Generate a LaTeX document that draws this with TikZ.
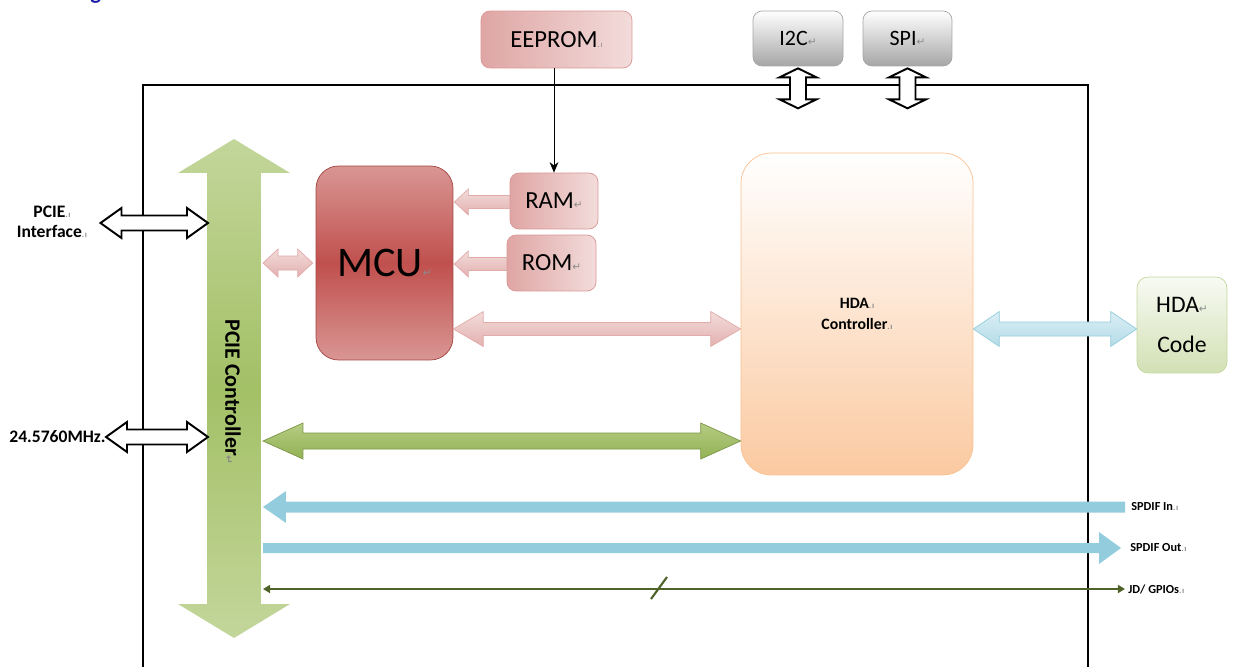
\documentclass[tikz,border=0pt]{standalone}
\usepackage{fontspec}
\setmainfont{Carlito}
\newfontfamily\symfont{DejaVu Sans}
\usetikzlibrary{calc,arrows.meta}

\definecolor{olivegreen}{HTML}{9BBB59}
\definecolor{lightgreen}{HTML}{C3D69B}
\definecolor{darkolive}{HTML}{4F6228}
\definecolor{redbox}{HTML}{C0504D}
\definecolor{rosebox}{HTML}{D99694}
\definecolor{palerose}{HTML}{F2DCDB}
\definecolor{peach}{HTML}{FAC090}
\definecolor{skyblue}{HTML}{93CDDD}
\definecolor{paleblue}{HTML}{DBEEF4}
\definecolor{markgray}{HTML}{8C8C8C}
\definecolor{titleblue}{HTML}{1C1CA8}

% one pixel of the drawing
\newcommand{\px}{0.56905pt}
% word marks
\newcommand{\pmark}{{\color{markgray}\symfont\fontsize{6}{6}\selectfont ↵}}
\newcommand{\dmark}{{\color{markgray}\fontsize{5}{5}\selectfont.\kern.4pt ı}}

% block arrows: [style]{end}{end}{head length}{head half width}{shaft half width}
\newcommand{\blkboth}[6][]{%
  \path[#1] let \p1=(#2), \p2=(#3) in
    (\x1,\y1) -- (\x1+#4*\px,\y1+#5*\px) -- (\x1+#4*\px,\y1+#6*\px)
    -- (\x2-#4*\px,\y1+#6*\px) -- (\x2-#4*\px,\y1+#5*\px) -- (\x2,\y1)
    -- (\x2-#4*\px,\y1-#5*\px) -- (\x2-#4*\px,\y1-#6*\px)
    -- (\x1+#4*\px,\y1-#6*\px) -- (\x1+#4*\px,\y1-#5*\px) -- cycle;}
\newcommand{\blkupdown}[6][]{%
  \path[#1] let \p1=(#2), \p2=(#3) in
    (\x1,\y1) -- (\x1+#5*\px,\y1-#4*\px) -- (\x1+#6*\px,\y1-#4*\px)
    -- (\x1+#6*\px,\y2+#4*\px) -- (\x1+#5*\px,\y2+#4*\px) -- (\x1,\y2)
    -- (\x1-#5*\px,\y2+#4*\px) -- (\x1-#6*\px,\y2+#4*\px)
    -- (\x1-#6*\px,\y1-#4*\px) -- (\x1-#5*\px,\y1-#4*\px) -- cycle;}
% tip first, tail second
\newcommand{\blkleft}[6][]{%
  \path[#1] let \p1=(#2), \p2=(#3) in
    (\x1,\y1) -- (\x1+#4*\px,\y1+#5*\px) -- (\x1+#4*\px,\y1+#6*\px)
    -- (\x2,\y1+#6*\px) -- (\x2,\y1-#6*\px) -- (\x1+#4*\px,\y1-#6*\px)
    -- (\x1+#4*\px,\y1-#5*\px) -- cycle;}
% tail first, tip second
\newcommand{\blkright}[6][]{%
  \path[#1] let \p1=(#2), \p2=(#3) in
    (\x2,\y1) -- (\x2-#4*\px,\y1+#5*\px) -- (\x2-#4*\px,\y1+#6*\px)
    -- (\x1,\y1+#6*\px) -- (\x1,\y1-#6*\px) -- (\x2-#4*\px,\y1-#6*\px)
    -- (\x2-#4*\px,\y1-#5*\px) -- cycle;}

\tikzset{
  chip/.style={line width=1.5pt},
  membox/.style={draw=rosebox, left color=rosebox!85, right color=palerose,
    rounded corners=0.18cm, inner sep=0pt, font=\fontsize{14}{14}\selectfont},
  mcubox/.style={draw=redbox!85!black, top color=rosebox, bottom color=rosebox,
    middle color=redbox, rounded corners=0.45cm, inner sep=0pt,
    font=\fontsize{24}{24}\selectfont},
  portbox/.style={draw=gray!70, top color=white, bottom color=gray!70,
    rounded corners=0.18cm, inner sep=0pt, font=\fontsize{12.5}{12.5}\selectfont},
  hdabox/.style={draw=peach, top color=white, bottom color=peach!85,
    rounded corners=0.6cm, inner sep=0pt, align=center,
    font=\fontsize{9}{12}\selectfont\bfseries},
  codebox/.style={draw=lightgreen, top color=lightgreen!12, bottom color=lightgreen!75,
    rounded corners=0.22cm, inner sep=0pt, align=center,
    font=\fontsize{13.5}{23}\selectfont},
  hollow/.style={draw=black, fill=white, line width=1.1pt},
  pinkarrow/.style={draw=rosebox!80, top color=palerose, bottom color=rosebox!75},
  greenbus/.style={top color=lightgreen, bottom color=lightgreen,
    middle color=olivegreen!80!lightgreen},
  greenarrow/.style={draw=olivegreen!80!black, top color=olivegreen!75!white,
    bottom color=olivegreen!95!black},
  hdalink/.style={draw=skyblue, top color=paleblue, bottom color=skyblue!70},
  spdif/.style={fill=skyblue},
  jdline/.style={draw=darkolive, line width=1.2pt,
    {Triangle[length=4pt,width=4.5pt]}-{Triangle[length=4pt,width=4.5pt]}},
  sidelabel/.style={font=\fontsize{10}{11.5}\selectfont\bfseries, inner sep=0pt, align=center},
  portlabel/.style={font=\fontsize{7}{7}\selectfont\bfseries, inner sep=0pt, anchor=west},
}

\begin{document}
\begin{tikzpicture}[x=0.02cm, y=-0.02cm]
\useasboundingbox (0,0) rectangle (1233,666);

% heading, cut by the page edge
\node[anchor=base west, inner sep=0pt, text=titleblue,
  font=\fontsize{13}{13}\selectfont\bfseries] (title) at (90,-1) {g};

% chip outline
\draw[chip] (143,700) -- (143,85) -- (1088,85) -- (1088,700);

% blocks
\node[membox, minimum width=3.02cm, minimum height=1.14cm] (eeprom) at (556.5,39.5) {EEPROM\dmark};
\node[portbox, minimum width=1.8cm, minimum height=1.1cm] (i2c) at (798,38.5) {I2C\pmark};
\node[portbox, minimum width=1.78cm, minimum height=1.1cm] (spi) at (907.5,38.5) {SPI\pmark};
\node[mcubox, minimum width=2.74cm, minimum height=3.88cm] (mcu) at (384.5,263) {MCU\pmark};
\node[membox, minimum width=1.76cm, minimum height=1.12cm] (ram) at (554,201) {RAM\pmark};
\node[membox, minimum width=1.78cm, minimum height=1.12cm] (rom) at (551.5,263) {ROM\pmark};
\node[hdabox, minimum width=4.64cm, minimum height=6.44cm] (hda) at (857,314) {HDA\dmark\\Controller\dmark};
\node[codebox, minimum width=1.8cm, minimum height=1.92cm] (code) at (1182,325) {HDA\pmark\\Code};

% pcie bus
\coordinate (bustop) at (234,139);
\coordinate (busbot) at (234,638);
\coordinate (busW) at (208,0);
\coordinate (busE) at (263,0);
\blkupdown[greenbus]{bustop}{busbot}{34}{56}{27}
\node[rotate=-90, inner sep=0pt, font=\fontsize{12.5}{12.5}\selectfont\bfseries] (pcie) at (233,392) {PCIE Controller\pmark};

% outside labels
\node[sidelabel] (pcieif) at (52,222) {PCIE\dmark\\Interface\dmark};
\node[sidelabel, anchor=east] (clk) at (106,437) {24.5760MHz.};
\node[portlabel] (spin) at (1131,507) {SPDIF In\dmark};
\node[portlabel] (spout) at (1130,548) {SPDIF Out\dmark};
\node[portlabel] (jd) at (1128,589) {JD/ GPIOs\dmark};

% links
\blkboth[hollow]{$(pcieif.east)+(13,1)$}{busW |- pcieif.east}{21}{15}{7.5}
\blkboth[hollow]{clk.east}{busW |- clk.east}{21}{15}{7.5}
\blkupdown[hollow]{$(i2c.south)+(0,2)$}{$(i2c.south)+(0,42)$}{9}{18.5}{8}
\blkupdown[hollow]{$(spi.south)+(0,2)$}{$(spi.south)+(0,42)$}{9}{18.5}{8}
\draw[-{Stealth[length=6pt,width=5pt]}] (ram.north |- eeprom.south) -- (ram.north);

\blkboth[pinkarrow]{busE |- mcu.west}{$(mcu.west)+(-3,0)$}{15}{14}{7}
\blkleft[pinkarrow]{$(mcu.east |- ram.west)+(1,1)$}{ram.west}{14}{13}{6.5}
\blkleft[pinkarrow]{$(mcu.east |- rom.west)+(1,1)$}{rom.west}{14}{13}{6.5}
\blkboth[pinkarrow]{$(mcu.east)+(0,66)$}{hda.west}{30}{17.5}{6.5}

\coordinate (greenL) at ($(busE |- hda.west)+(0,127)$);
\blkboth[greenarrow]{greenL}{hda.west}{40}{18}{8}
\blkboth[hdalink]{$(hda.east)+(0,15)$}{code.west}{26}{17.5}{7}

\blkleft[spdif]{busE |- spin.west}{$(spin.west)+(-6,0)$}{23}{16}{5.5}
\blkright[spdif]{busE |- spout.west}{$(spout.west)+(-9,0)$}{22}{16}{5}
\draw[jdline] (busE |- jd.west) -- ($(jd.west)+(-3,0)$);
\draw[darkolive, line width=1.2pt] (651,599) -- (667,577);
\end{tikzpicture}
\end{document}
